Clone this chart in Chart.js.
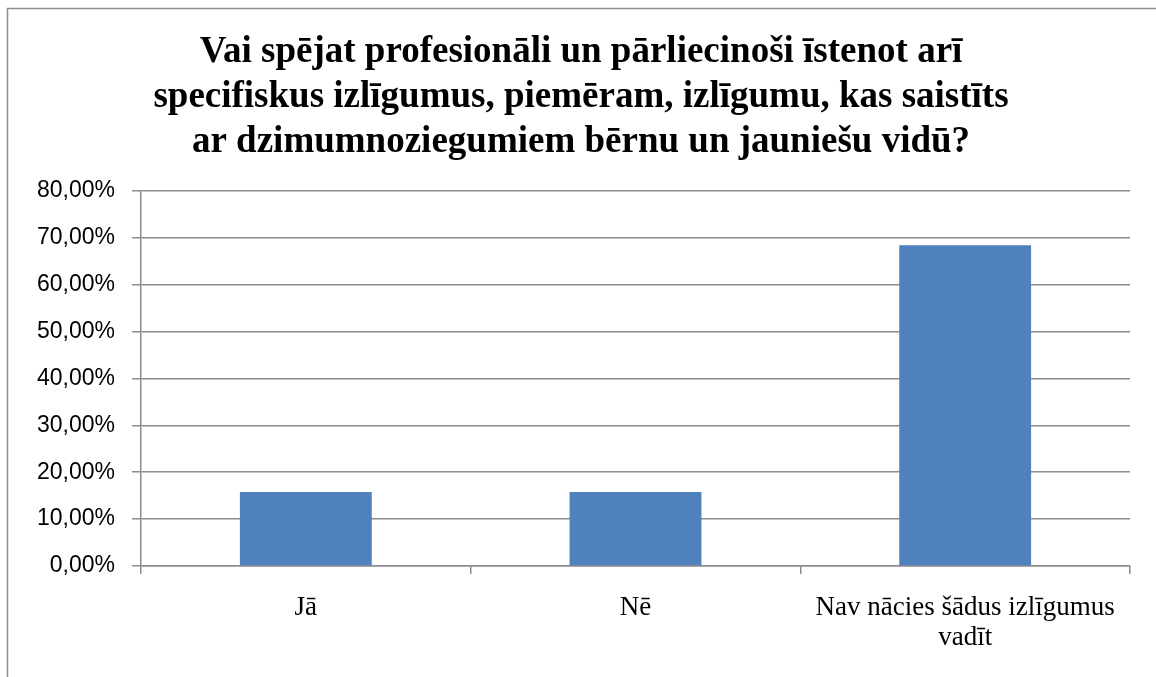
<!DOCTYPE html>
<html>
<head>
<meta charset="utf-8">
<script src="https://cdn.jsdelivr.net/npm/chart.js@4"></script>
<style>
html,body{margin:0;padding:0;background:#fff;}
#wrap{position:absolute;left:0;top:0;width:1156px;height:677px;}
</style>
</head>
<body>
<div id="wrap"><canvas id="c" width="1156" height="677"></canvas></div>
<script>
const titleLines = [
  "Vai spējat profesionāli un pārliecinoši īstenot arī",
  "specifiskus izlīgumus, piemēram, izlīgumu, kas saistīts",
  "ar dzimumnoziegumiem bērnu un jauniešu vidū?"
];
const categories = [["Jā"], ["Nē"], ["Nav nācies šādus izlīgumus", "vadīt"]];
const values = [15.79, 15.79, 68.42];
const yTicks = [0, 10, 20, 30, 40, 50, 60, 70, 80];

const borderPlugin = {
  id: 'outerBorder',
  beforeDraw(chart) {
    const ctx = chart.ctx;
    ctx.save();
    ctx.fillStyle = '#fff';
    ctx.fillRect(0, 0, chart.width, chart.height);
    ctx.strokeStyle = '#8c8c8c';
    ctx.lineWidth = 1.5;
    ctx.strokeRect(7.5, 8.5, chart.width + 50, chart.height + 50);
    ctx.restore();
  }
};

new Chart(document.getElementById('c'), {
  type: 'bar',
  data: {
    labels: categories,
    datasets: [{
      data: values,
      backgroundColor: '#4F81BD',
      borderWidth: 0,
      barPercentage: 0.4,
      categoryPercentage: 1.0
    }]
  },
  options: {
    responsive: false,
    animation: false,
    devicePixelRatio: 1,
    layout: { padding: { left: 32, right: 26, top: 10, bottom: 0 } },
    plugins: {
      legend: { display: false },
      tooltip: { enabled: false },
      title: {
        display: true,
        text: titleLines,
        color: '#000',
        font: { family: '"Liberation Serif", "Times New Roman", serif', size: 37, weight: 'bold', lineHeight: 1.216 },
        padding: { top: 20, bottom: 26 }
      }
    },
    scales: {
      x: {
        offset: true,
        grid: {
          offset: true,
          drawOnChartArea: false,
          drawTicks: true,
          tickLength: 8,
          color: '#8c8c8c',
          lineWidth: 1.5
        },
        border: { display: true, color: '#8c8c8c', width: 1.5 },
        ticks: {
          color: '#000',
          font: { family: '"Liberation Serif", "Times New Roman", serif', size: 27, lineHeight: 1.11 },
          padding: 19,
          maxRotation: 0,
          autoSkip: false
        },
        afterFit(scale) { scale.height = 111; }
      },
      y: {
        min: 0,
        max: 80,
        afterBuildTicks(scale) { scale.ticks = yTicks.map(v => ({ value: v })); },
        grid: {
          color: '#8c8c8c',
          lineWidth: 1.5,
          tickLength: 9,
          drawTicks: true
        },
        border: { display: true, color: '#8c8c8c', width: 1.5 },
        ticks: {
          color: '#000',
          font: { family: '"Liberation Sans", Arial, sans-serif', size: 23 },
          padding: 17,
          callback: (v) => v.toFixed(2).replace('.', ',') + '%'
        },
        afterFit(scale) { scale.width = 109; }
      }
    }
  },
  plugins: [borderPlugin]
});
</script>
</body>
</html>
